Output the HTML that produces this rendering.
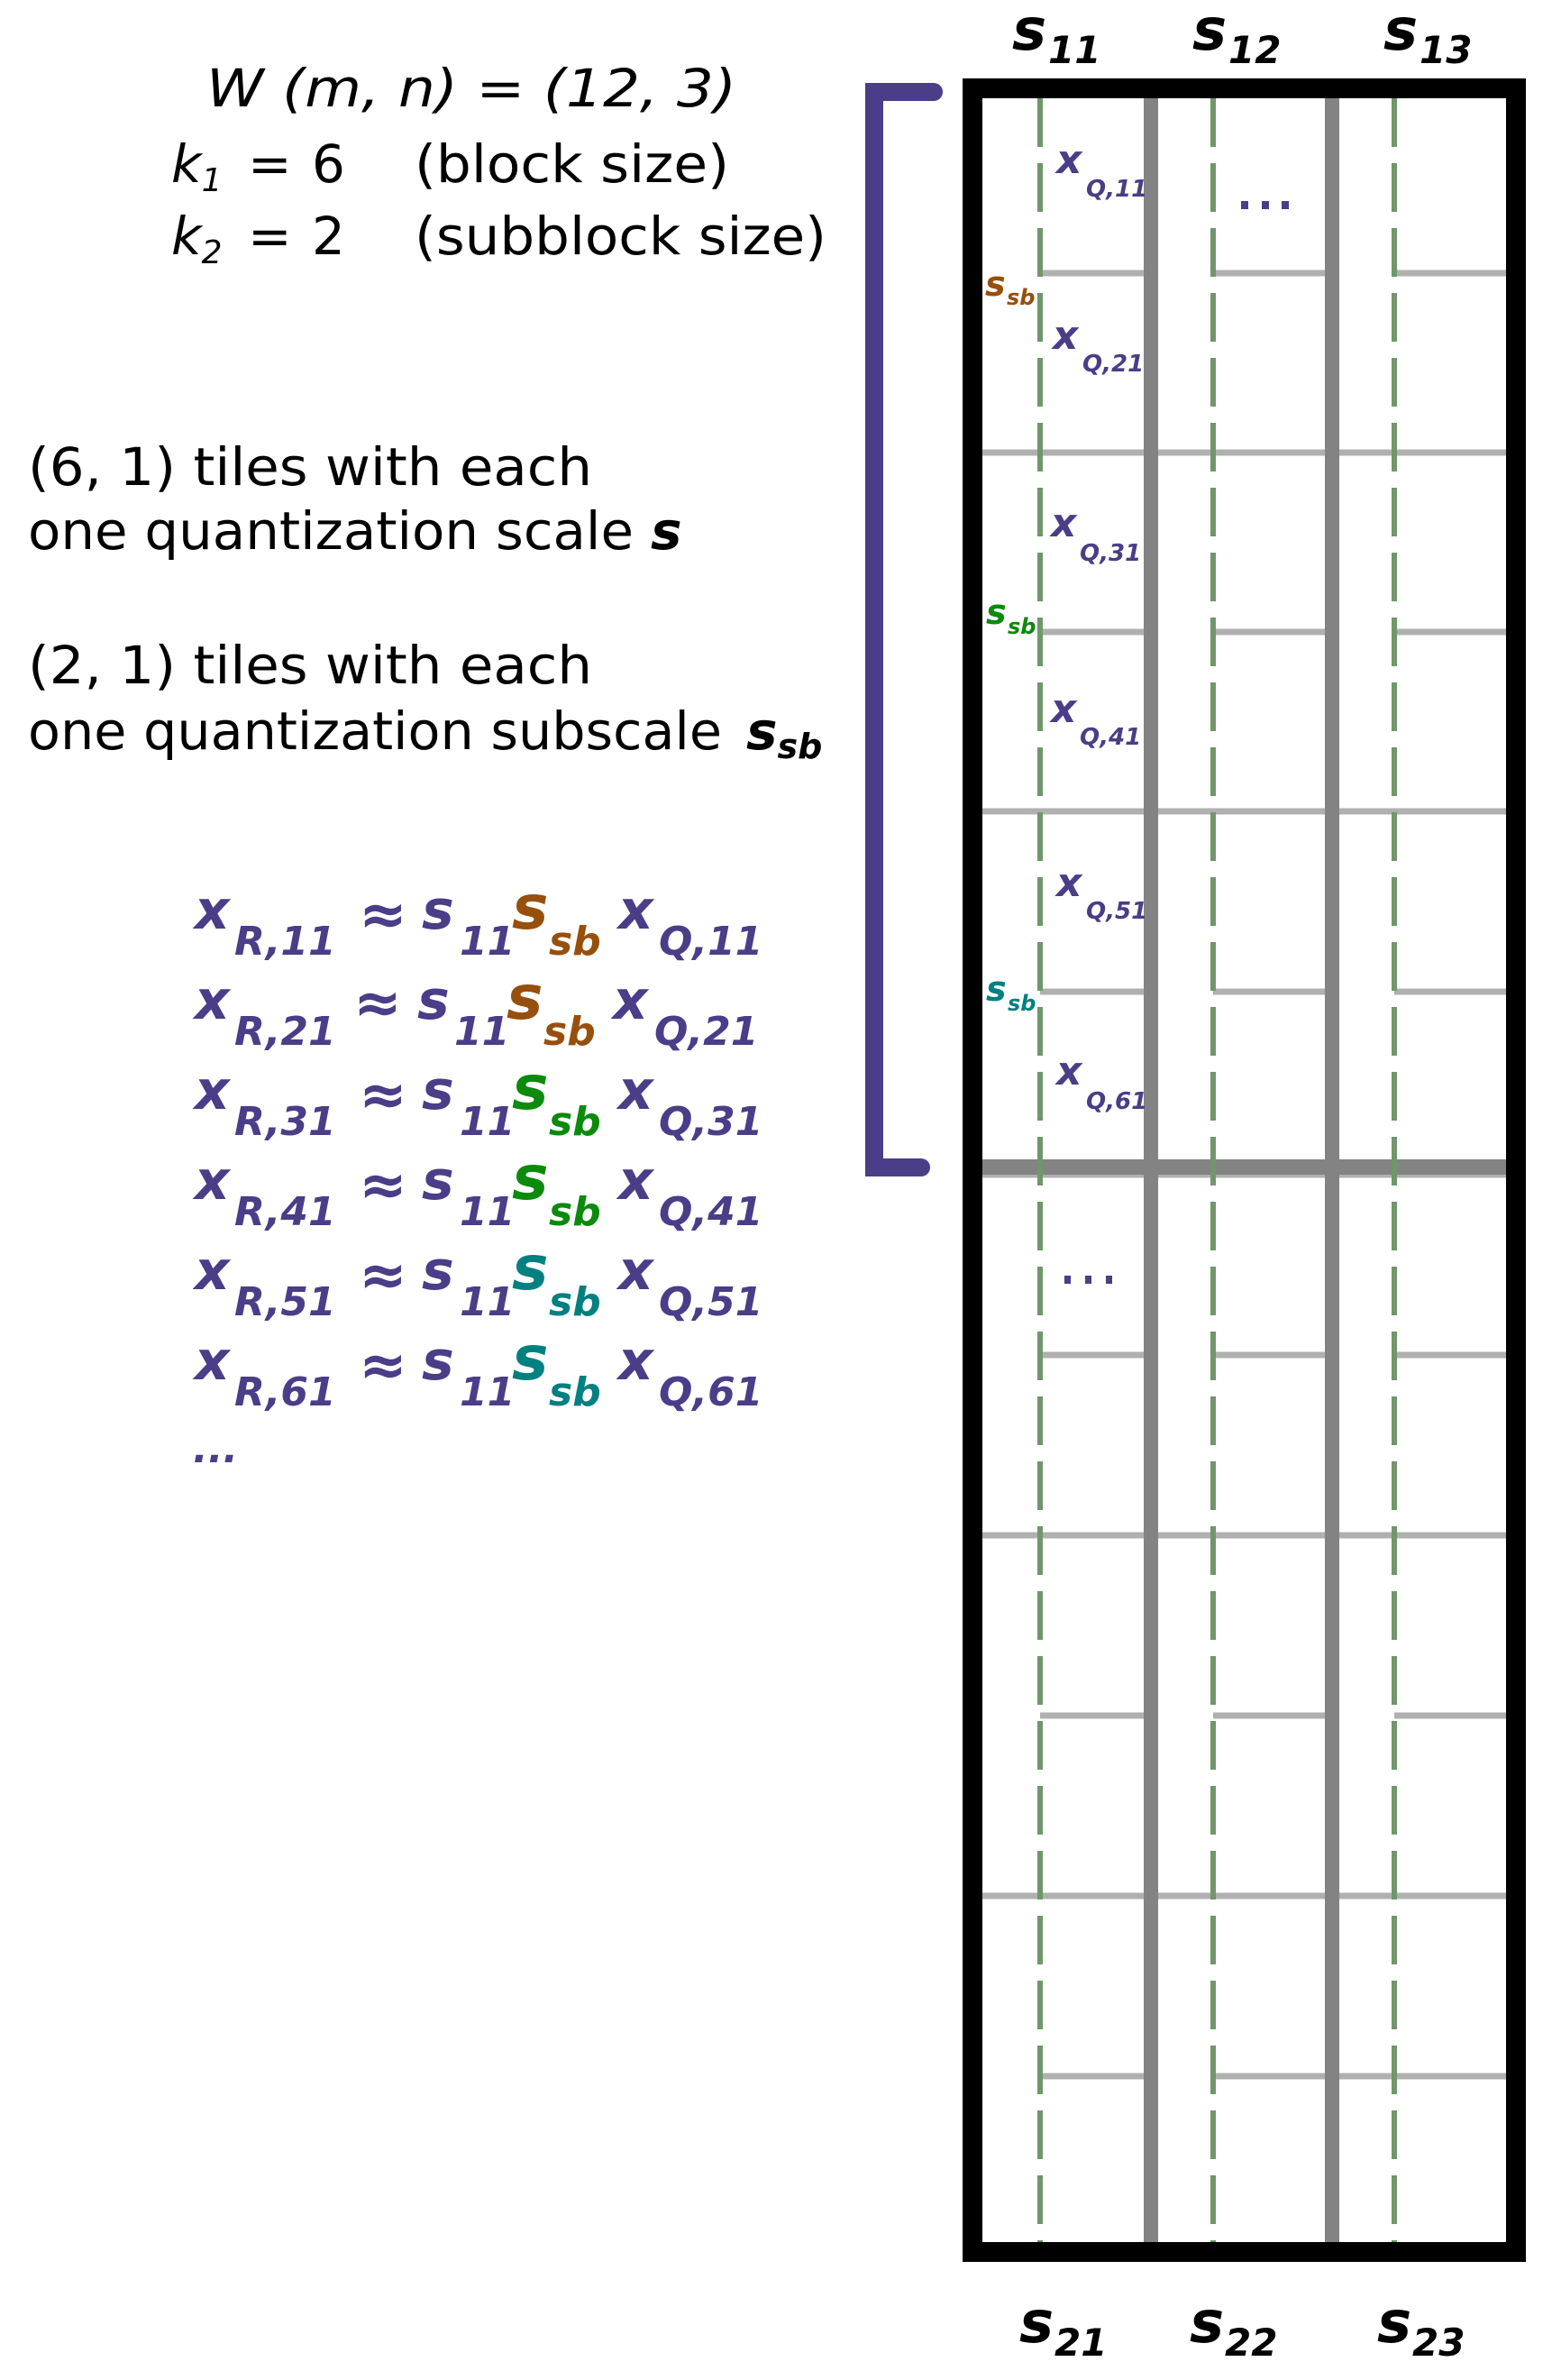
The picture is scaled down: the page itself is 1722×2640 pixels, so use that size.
<!DOCTYPE html>
<html><head><meta charset="utf-8"><style>
html,body{margin:0;padding:0;background:#fff;}
svg{display:block;}
.t{font-family:"DejaVu Sans","Liberation Sans",sans-serif;}
.bi{font-family:"DejaVu Sans","Liberation Sans",sans-serif;font-weight:bold;font-style:italic;}
</style></head><body>
<svg width="1722" height="2640" viewBox="0 0 1722 2640" xmlns="http://www.w3.org/2000/svg">
<g stroke="#b0b0b0" stroke-width="7">
<line x1="1090" y1="502" x2="1671" y2="502"/>
<line x1="1090" y1="900" x2="1671" y2="900"/>
<line x1="1090" y1="1703" x2="1671" y2="1703"/>
<line x1="1090" y1="2103" x2="1671" y2="2103"/>
<line x1="1090" y1="1303" x2="1671" y2="1303"/>
</g>
<g stroke="#b0b0b0" stroke-width="7">
<line x1="1154" y1="303" x2="1270" y2="303"/><line x1="1346" y1="303" x2="1471" y2="303"/><line x1="1547" y1="303" x2="1671" y2="303"/>
<line x1="1154" y1="701" x2="1270" y2="701"/><line x1="1346" y1="701" x2="1471" y2="701"/><line x1="1547" y1="701" x2="1671" y2="701"/>
<line x1="1154" y1="1100" x2="1270" y2="1100"/><line x1="1346" y1="1100" x2="1471" y2="1100"/><line x1="1547" y1="1100" x2="1671" y2="1100"/>
<line x1="1154" y1="1503" x2="1270" y2="1503"/><line x1="1346" y1="1503" x2="1471" y2="1503"/><line x1="1547" y1="1503" x2="1671" y2="1503"/>
<line x1="1154" y1="1903" x2="1270" y2="1903"/><line x1="1346" y1="1903" x2="1471" y2="1903"/><line x1="1547" y1="1903" x2="1671" y2="1903"/>
<line x1="1154" y1="2303" x2="1270" y2="2303"/><line x1="1346" y1="2303" x2="1671" y2="2303"/>
</g>
<rect x="1090" y="1286" width="581" height="17" fill="#838383"/>
<g stroke="#6f976a" stroke-width="6" stroke-dasharray="54 18">
<line x1="1154" y1="109" x2="1154" y2="2487"/>
<line x1="1346" y1="109" x2="1346" y2="2487"/>
<line x1="1547" y1="109" x2="1547" y2="2487"/>
</g>
<rect x="1269" y="109" width="16" height="2378" fill="#838383"/>
<rect x="1470" y="109" width="16" height="2378" fill="#838383"/>
<rect x="1079" y="98" width="603" height="2400" fill="none" stroke="#000" stroke-width="22"/>
<path d="M1036,102 H970 V1295 H1022" fill="none" stroke="#4b3d87" stroke-width="20" stroke-linecap="round" stroke-linejoin="miter"/>
<g class="bi" fill="#000">
<text x="1123" y="55" font-size="64">s<tspan x="1163" y="70" font-size="42">11</tspan></text>
<text x="1323" y="55" font-size="64">s<tspan x="1363" y="70" font-size="42">12</tspan></text>
<text x="1535" y="55" font-size="64">s<tspan x="1575" y="70" font-size="42">13</tspan></text>
<text x="1131" y="2598" font-size="64">s<tspan x="1170" y="2613" font-size="42">21</tspan></text>
<text x="1320" y="2598" font-size="64">s<tspan x="1359" y="2613" font-size="42">22</tspan></text>
<text x="1528" y="2598" font-size="64">s<tspan x="1567" y="2613" font-size="42">23</tspan></text>
</g>
<g class="bi" fill="#4b3d87">
<text x="1172" y="192" font-size="44">x<tspan x="1205" y="218" font-size="26">Q,11</tspan></text>
<text x="1168" y="387" font-size="44">x<tspan x="1201" y="412" font-size="26">Q,21</tspan></text>
<text x="1166" y="595" font-size="44">x<tspan x="1198" y="622" font-size="26">Q,31</tspan></text>
<text x="1166" y="801" font-size="44">x<tspan x="1198" y="826" font-size="26">Q,41</tspan></text>
<text x="1172" y="994" font-size="44">x<tspan x="1205" y="1019" font-size="26">Q,51</tspan></text>
<text x="1172" y="1203" font-size="44">x<tspan x="1205" y="1230" font-size="26">Q,61</tspan></text>
</g>
<g class="bi">
<text x="1093" y="328" font-size="38" fill="#974f0c">s<tspan x="1117" y="338" font-size="24">sb</tspan></text>
<text x="1094" y="692" font-size="38" fill="#0b8a0b">s<tspan x="1118" y="703" font-size="24">sb</tspan></text>
<text x="1094" y="1110" font-size="38" fill="#008080">s<tspan x="1118" y="1121" font-size="24">sb</tspan></text>
</g>
<g fill="#4b3d87">
<rect x="1377" y="223" width="8" height="9"/><rect x="1400" y="223" width="8" height="9"/><rect x="1422" y="223" width="8" height="9"/>
<rect x="1181" y="1415" width="7" height="9"/><rect x="1204" y="1415" width="7" height="9"/><rect x="1227" y="1415" width="7" height="9"/>
</g>
<g class="t" fill="#000" font-size="58">
<text x="229" y="118" font-style="italic" textLength="588" lengthAdjust="spacingAndGlyphs">W (m, n) = (12, 3)</text>
<text x="190" y="202"><tspan font-style="italic">k</tspan><tspan font-style="italic" font-size="36" dy="10">1</tspan></text>
<text x="275" y="202">=</text><text x="346" y="202">6</text>
<text x="460" y="202" textLength="349" lengthAdjust="spacingAndGlyphs">(block size)</text>
<text x="190" y="282"><tspan font-style="italic">k</tspan><tspan font-style="italic" font-size="36" dy="10">2</tspan></text>
<text x="275" y="282">=</text><text x="346" y="282">2</text>
<text x="460" y="282" textLength="457" lengthAdjust="spacingAndGlyphs">(subblock size)</text>
<text x="31" y="538" textLength="626" lengthAdjust="spacingAndGlyphs">(6, 1) tiles with each</text>
<text x="31" y="609" textLength="672" lengthAdjust="spacingAndGlyphs">one quantization scale</text>
<text x="722" y="609" class="bi">s</text>
<text x="31" y="758" textLength="626" lengthAdjust="spacingAndGlyphs">(2, 1) tiles with each</text>
<text x="31" y="831" textLength="770" lengthAdjust="spacingAndGlyphs">one quantization subscale</text>
<text x="828" y="831" class="bi">s<tspan font-size="38" dy="10">sb</tspan></text>
</g>
<g class="bi" fill="#4b3d87">
<g font-size="60">
<text x="216" y="1030">x<tspan x="260" y="1059" font-size="44">R,11</tspan><tspan x="398" y="1036" font-size="64">≈</tspan><tspan x="468" y="1030">s</tspan><tspan x="510" y="1059" font-size="44">11</tspan><tspan x="568" y="1030" font-size="68" fill="#974f0c">s</tspan><tspan x="609" y="1059" font-size="44" fill="#974f0c">sb</tspan><tspan x="686" y="1030">x</tspan><tspan x="731" y="1059" font-size="44">Q,11</tspan></text>
<text x="216" y="1130">x<tspan x="260" y="1159" font-size="44">R,21</tspan><tspan x="392" y="1134" font-size="64">≈</tspan><tspan x="463" y="1130">s</tspan><tspan x="504" y="1159" font-size="44">11</tspan><tspan x="562" y="1130" font-size="68" fill="#974f0c">s</tspan><tspan x="603" y="1159" font-size="44" fill="#974f0c">sb</tspan><tspan x="680" y="1130">x</tspan><tspan x="726" y="1159" font-size="44">Q,21</tspan></text>
<text x="216" y="1230">x<tspan x="260" y="1259" font-size="44">R,31</tspan><tspan x="398" y="1236" font-size="64">≈</tspan><tspan x="468" y="1230">s</tspan><tspan x="510" y="1259" font-size="44">11</tspan><tspan x="568" y="1230" font-size="68" fill="#0b8a0b">s</tspan><tspan x="609" y="1259" font-size="44" fill="#0b8a0b">sb</tspan><tspan x="686" y="1230">x</tspan><tspan x="731" y="1259" font-size="44">Q,31</tspan></text>
<text x="216" y="1330">x<tspan x="260" y="1359" font-size="44">R,41</tspan><tspan x="398" y="1336" font-size="64">≈</tspan><tspan x="468" y="1330">s</tspan><tspan x="510" y="1359" font-size="44">11</tspan><tspan x="568" y="1330" font-size="68" fill="#0b8a0b">s</tspan><tspan x="609" y="1359" font-size="44" fill="#0b8a0b">sb</tspan><tspan x="686" y="1330">x</tspan><tspan x="731" y="1359" font-size="44">Q,41</tspan></text>
<text x="216" y="1430">x<tspan x="260" y="1459" font-size="44">R,51</tspan><tspan x="398" y="1436" font-size="64">≈</tspan><tspan x="468" y="1430">s</tspan><tspan x="510" y="1459" font-size="44">11</tspan><tspan x="568" y="1430" font-size="68" fill="#008080">s</tspan><tspan x="609" y="1459" font-size="44" fill="#008080">sb</tspan><tspan x="686" y="1430">x</tspan><tspan x="731" y="1459" font-size="44">Q,51</tspan></text>
<text x="216" y="1530">x<tspan x="260" y="1559" font-size="44">R,61</tspan><tspan x="398" y="1536" font-size="64">≈</tspan><tspan x="468" y="1530">s</tspan><tspan x="510" y="1559" font-size="44">11</tspan><tspan x="568" y="1530" font-size="68" fill="#008080">s</tspan><tspan x="609" y="1559" font-size="44" fill="#008080">sb</tspan><tspan x="686" y="1530">x</tspan><tspan x="731" y="1559" font-size="44">Q,61</tspan></text>
</g>
<text x="214" y="1622" font-size="44">...</text>
</g>
</svg>
</body></html>
